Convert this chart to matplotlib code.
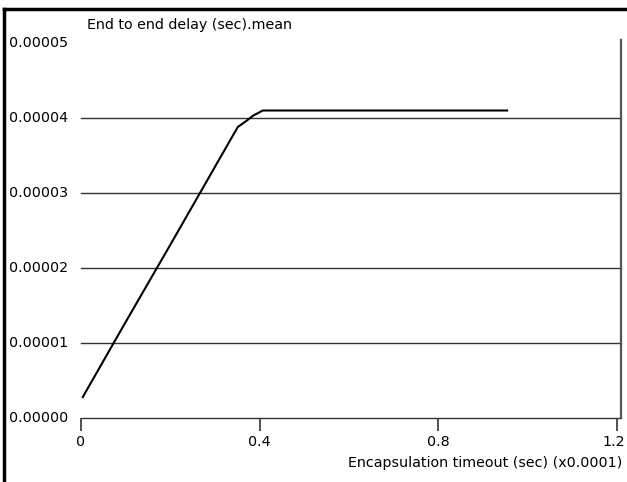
import matplotlib
matplotlib.use("Agg")
import matplotlib.pyplot as plt
import matplotlib.transforms as mtransforms
from matplotlib.lines import Line2D

# values
timeout = [0.004, 0.10, 0.20, 0.30, 0.351, 0.37, 0.385, 0.407, 0.954]
delay = [2.8e-6, 1.28e-5, 2.31e-5, 3.35e-5, 3.88e-5, 3.96e-5, 4.03e-5, 4.1e-5, 4.1e-5]
xticks = [0, 0.4, 0.8, 1.2]
xtick_labels = ["0", "0.4", "0.8", "1.2"]
yticks = [0, 1e-5, 2e-5, 3e-5, 4e-5, 5e-5]
ytick_labels = ["0.00000", "0.00001", "0.00002", "0.00003", "0.00004", "0.00005"]

plt.rcParams['font.family'] = ['DejaVu Sans']
fs = 10.3

W, H = 627, 482
fig = plt.figure(figsize=(W / 100, H / 100), dpi=100)
x0, x1, y0, y1 = 81, 621, 418, 40
ax = fig.add_axes([x0 / W, 1 - y0 / H, (x1 - x0) / W, (y0 - y1) / H])
ax.set_xlim(0, 1.2 * (x1 - x0) / 536)
ax.set_ylim(0, (y0 - y1) / 75 * 1e-5)

for v in yticks[:-1]:
    ax.axhline(v, color="#333333", lw=1.0, zorder=1, clip_on=False)

ax.plot(timeout, delay, color="black", lw=1.5, zorder=3)

for s in ["top", "left", "bottom"]:
    ax.spines[s].set_visible(False)
ax.spines["right"].set_color("#555555")
ax.spines["right"].set_linewidth(1.6)

ax.set_xticks(xticks)
ax.set_xticklabels(xtick_labels, fontsize=fs)
ax.tick_params(axis="x", direction="out", length=9, width=1.2, pad=3, color="#333333")
ax.set_yticks([])
last = ax.get_xticklabels()[-1]
last.set_transform(last.get_transform() + mtransforms.ScaledTranslation(-3 / 100, 0, fig.dpi_scale_trans))

# y labels drawn left aligned like the original tool
for v, lab in zip(yticks, ytick_labels):
    ax.text((9 - x0) / (x1 - x0), v, lab, transform=ax.get_yaxis_transform(), fontsize=fs,
            ha="left", va="center")

fig.text(87 / W, 1 - 25 / H, "End to end delay (sec).mean", fontsize=fs, ha="left", va="center")
fig.text(622 / W, 1 - 463 / H, "Encapsulation timeout (sec) (x0.0001)", fontsize=fs,
         ha="right", va="center")

# outer frame
fig.add_artist(Line2D([4 / W, 1], [1 - 9 / H, 1 - 9 / H], color="black", lw=2.5))
fig.add_artist(Line2D([4 / W, 4 / W], [0, 1 - 9 / H], color="black", lw=2.5))

fig.savefig("out.png", dpi=100)
